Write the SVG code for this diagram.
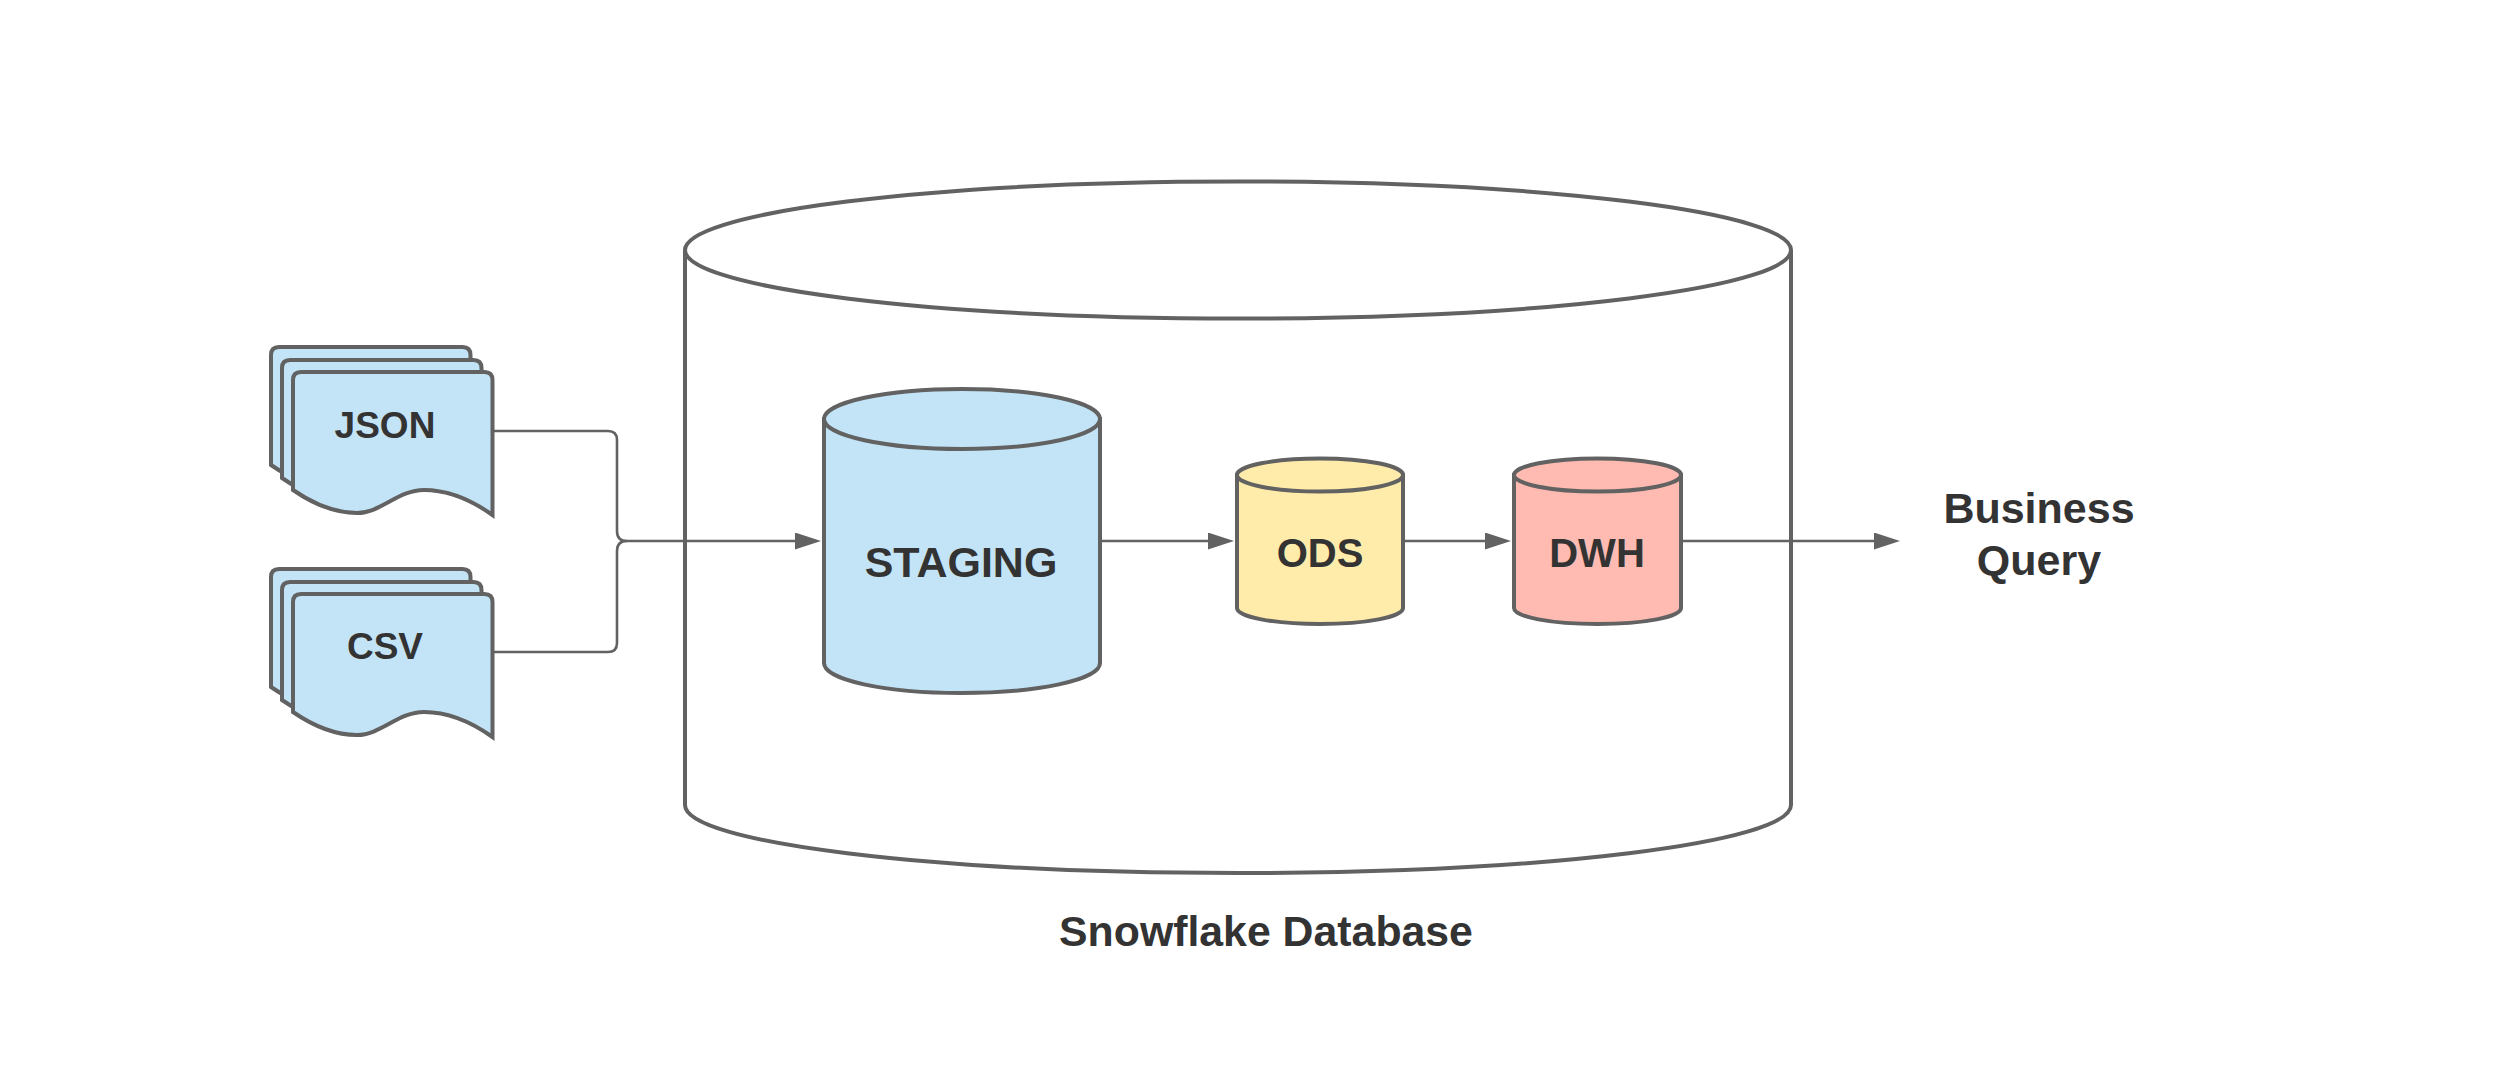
<svg xmlns="http://www.w3.org/2000/svg" width="2520" height="1066" viewBox="0 0 2520 1066">
<style>
.n{stroke:#626262;stroke-width:4;stroke-linejoin:miter}
.blue{fill:#c3e4f7}.yellow{fill:#ffecaa}.red{fill:#ffbbb1}.none{fill:none}
.c{fill:none;stroke:#626262;stroke-width:2.6}
.t{font-family:"Liberation Sans",Arial,sans-serif;font-weight:700;fill:#333;text-anchor:middle}
</style>
<defs>
<marker id="a" markerUnits="userSpaceOnUse" markerWidth="27" markerHeight="18" refX="16" refY="8.500" orient="auto"><path d="M0 0L26 8.500L0 17Z" fill="#626262"/></marker>
<path id="doc" d="M0 118V8Q0 0 8 0H191.500Q199.500 0 199.500 8V143C177 127 155 118 131 118C105 118 88 141 64 141C38 141 16 129 0 118Z"/>
</defs>
<g id="snowflake">
<path class="n none" d="M685 250V805C685 843 933 873 1238 873S1791 843 1791 805V250"/>
<ellipse class="n none" cx="1238" cy="250" rx="553" ry="68.500"/>
<text class="t" x="1266" y="946" font-size="42.800">Snowflake Database</text>
</g>
<g id="connectors">
<path class="c" d="M493 431H608Q617 431 617 440V531Q617 541 627 541"/>
<path class="c" d="M493 652H608Q617 652 617 643V551Q617 541 627 541"/>
<path class="c" marker-end="url(#a)" d="M627 541H811"/>
<path class="c" marker-end="url(#a)" d="M1102 541H1224"/>
<path class="c" marker-end="url(#a)" d="M1404 541H1501"/>
<path class="c" marker-end="url(#a)" d="M1682 541H1890"/>
</g>
<g id="json">
<use href="#doc" x="271" y="347" class="n blue"/>
<use href="#doc" x="282" y="360" class="n blue"/>
<use href="#doc" x="293" y="372" class="n blue"/>
<text class="t" x="385" y="438" font-size="37">JSON</text>
</g>
<g id="csv">
<use href="#doc" x="271" y="569" class="n blue"/>
<use href="#doc" x="282" y="582" class="n blue"/>
<use href="#doc" x="293" y="594" class="n blue"/>
<text class="t" x="385" y="659" font-size="37">CSV</text>
</g>
<g id="staging">
<path class="n blue" d="M824 419V663C824 680 885 693 961 693S1100 680 1100 663V419Z"/>
<ellipse class="n blue" cx="962" cy="419" rx="138" ry="30"/>
<text class="t" x="961" y="577" font-size="43">STAGING</text>
</g>
<g id="ods">
<path class="n yellow" d="M1237 475V608C1237 617 1274 624 1320 624S1403 617 1403 608V475Z"/>
<ellipse class="n yellow" cx="1320" cy="475" rx="83" ry="16.500"/>
<text class="t" x="1320" y="567" font-size="40">ODS</text>
</g>
<g id="dwh">
<path class="n red" d="M1514 475V608C1514 617 1551 624 1597.500 624S1681 617 1681 608V475Z"/>
<ellipse class="n red" cx="1597.500" cy="475" rx="83.500" ry="16.500"/>
<text class="t" x="1597" y="567" font-size="40">DWH</text>
</g>
<g id="query">
<text class="t" x="2039" y="523" font-size="43">Business</text>
<text class="t" x="2039" y="575" font-size="43">Query</text>
</g>
</svg>
